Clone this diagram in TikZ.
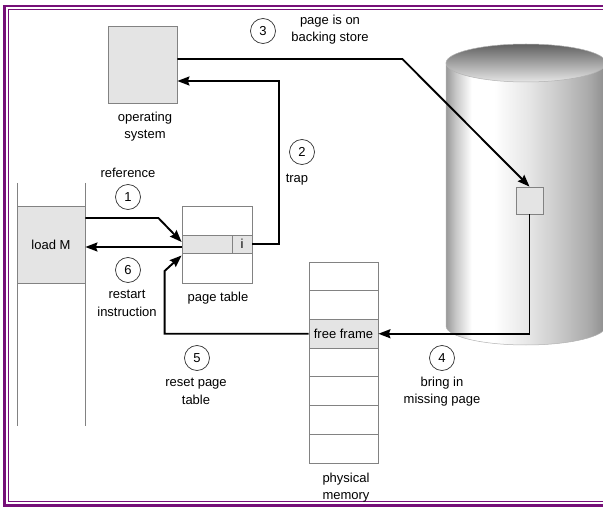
\documentclass[tikz,border=0pt]{standalone}
\usepackage{fontspec}
\setmainfont{Liberation Sans}
\usetikzlibrary{arrows.meta}
\definecolor{framepurple}{RGB}{118,16,120}
\definecolor{boxgray}{RGB}{228,228,228}
\definecolor{edgegray}{RGB}{130,130,130}
\pgfdeclarehorizontalshading{cylbody}{100bp}{color(0bp)=(black!40); color(25bp)=(black!40); color(28bp)=(black!22); color(33bp)=(white); color(40bp)=(white); color(51bp)=(black!10); color(61bp)=(black!22); color(70bp)=(black!34); color(75bp)=(black!45); color(100bp)=(black!45)}
\tikzset{
  box/.style={draw=edgegray, line width=0.8pt, fill=boxgray, inner sep=0pt},
  wbox/.style={draw=edgegray, line width=0.8pt, fill=white, inner sep=0pt},
  memrow/.style={draw=edgegray, line width=0.8pt, fill=white, inner sep=0pt, minimum width=69pt, minimum height=28.7pt},
  lbl/.style={inner sep=0pt, align=center, font=\fontsize{13}{17.5}\selectfont},
  num/.style={circle, draw=black!80, line width=0.7pt, minimum size=25pt, inner sep=0pt, font=\fontsize{13}{15}\selectfont},
  arr/.style={line width=1.9pt, -{Stealth[length=12pt,width=9pt,inset=1.5pt]}},
}
\begin{document}
\begin{tikzpicture}[x=1pt, y=-1pt]
\useasboundingbox (0,0) rectangle (603,508);
\begin{scope}
\clip (0,0) rectangle (603,508);
% frame
\draw[framepurple, line width=2.5pt] (4.7,6.2) rectangle (615,505.5);
\draw[framepurple, line width=1pt] (8.5,9.8) rectangle (610,501.5);
% cylinder (backing store)
\shade[shading=cylbody, draw=black!30, line width=0.5pt] (446,63) -- (446,326)
  arc[start angle=180, end angle=360, x radius=80pt, y radius=19pt] -- (606,63) -- cycle;
\shade[top color=black!62, bottom color=black!10, draw=black!30, line width=0.5pt]
  (526,63) ellipse[x radius=80pt, y radius=19pt];
\end{scope}

% operating system
\node[box, minimum width=69pt, minimum height=77pt] (os) at (142.5,64.5) {};
\node[lbl] (oslbl) at (145,126.5) {operating\\system};

% program column
\draw[edgegray, line width=0.8pt] (17,183) coordinate (pl1) -- (17,426) coordinate (pl2);
\draw[edgegray, line width=0.8pt] (85,183) coordinate (pr1) -- (85,426) coordinate (pr2);
\node[box, minimum width=68pt, minimum height=77pt] (lm) at (51,244.5) {};
\node[lbl] (lmtxt) at (51,245) {load M};

% page table
\node[wbox, minimum width=70pt, minimum height=77pt] (pt) at (217,244.5) {};
\node[box, minimum width=50pt, minimum height=18pt] (ptrow) at (207,244) {};
\node[box, minimum width=20pt, minimum height=18pt, font=\fontsize{13}{15}\selectfont] (ptbit) at (242,244) {i};
\node[lbl] (ptlbl) at (218,298) {page table};

% disk page
\node[box, minimum width=27pt, minimum height=27pt] (dpage) at (529.5,200.5) {};

% physical memory
\foreach \i in {0,1,3,4,5,6}
  \node[memrow] (m\i) at (343.5,{262+28.7*(\i+0.5)}) {};
\node[memrow, fill=boxgray, font=\fontsize{13}{15}\selectfont] (ff) at (343.5,333.75) {free frame};
\node[lbl] (pmlbl) at (346,487.5) {physical\\memory};

% arrows
\draw[arr] ([yshift=26.5pt]lm.east) -- ++(73,0) -- ([yshift=2pt]ptrow.west);
\draw[arr] ([yshift=-3pt]ptrow.west) coordinate (s6) -- (s6 -| lm.east);
\draw[arr] (ptbit.east) -| ([xshift=102pt,yshift=-16.5pt]os.east) -- ([yshift=-16.5pt]os.east);
\draw[arr] ([yshift=5.5pt]os.east) -- ++(225,0) -- (dpage.north);
\draw[arr] (dpage.south) |- (ff.east);
\draw[arr] (ff.west) -- ++(-144,0) -- ++(0,-62.75) -- ([yshift=-11.5pt]ptrow.west);

% step labels
\node[num] (c1) at (128,197) {1};
\node[lbl] (l1) at (128,173) {reference};
\node[num] (c2) at (302,152) {2};
\node[lbl] (l2) at (297,180) {trap};
\node[num] (c3) at (263,31) {3};
\node[lbl] (l3) at (330,29.5) {page is on\\backing store};
\node[num] (c4) at (442,358) {4};
\node[lbl] (l4) at (442,391.5) {bring in\\missing page};
\node[num] (c5) at (197,358) {5};
\node[lbl] (l5) at (196,391.5) {reset page\\table};
\node[num] (c6) at (128,270) {6};
\node[lbl] (l6) at (127,303.5) {restart\\instruction};
\end{tikzpicture}
\end{document}
